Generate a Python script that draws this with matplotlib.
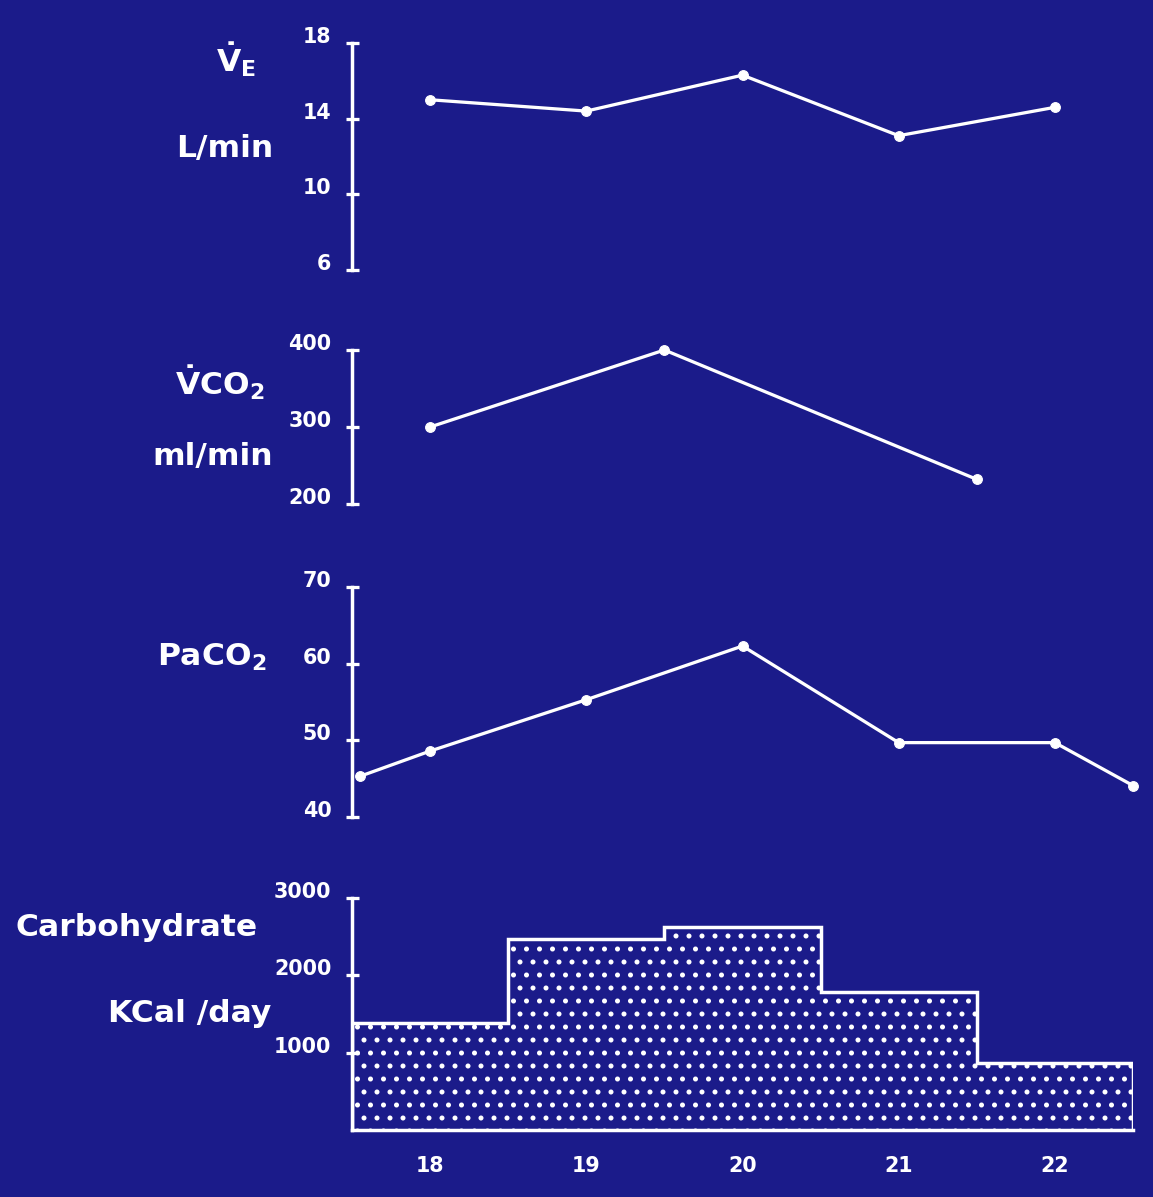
import numpy as np
import matplotlib.pyplot as plt
from matplotlib.transforms import ScaledTranslation

# Data
ve_days = [18, 19, 20, 21, 22]
ve_vals = [15.0, 14.4, 16.3, 13.1, 14.6]

vco2_days = [18, 19.5, 21.5]
vco2_vals = [300, 400, 232]

paco2_days = [17.55, 18, 19, 20, 21, 22, 22.5]
paco2_vals = [45.3, 48.6, 55.3, 62.3, 49.7, 49.7, 44.1]

carb_days = [18, 19, 20, 21, 22]
carb_vals = [1380, 2470, 2630, 1780, 870]

day_ticks = [18, 19, 20, 21, 22]

BG = "#1b1b8a"
FG = "white"
DPI = 78
W, H = 1153, 1197

plt.rcParams["hatch.color"] = FG
plt.rcParams["hatch.linewidth"] = 2.2
plt.rcParams["mathtext.default"] = "bf"
plt.rcParams["font.family"] = "DejaVu Sans"

fig = plt.figure(figsize=(W / DPI, H / DPI), dpi=DPI, facecolor=BG)


def px_box(top, bottom, left=352, right=1133):
    return [left / W, 1 - bottom / H, (right - left) / W, (bottom - top) / H]


def style_axis(ax, ylim, yticks):
    ax.set_facecolor("none")
    ax.set_xlim(17.5, 22.5)
    ax.set_ylim(*ylim)
    ax.set_yticks(yticks)
    for s in ["top", "right", "bottom"]:
        ax.spines[s].set_visible(False)
    ax.spines["left"].set_color(FG)
    ax.spines["left"].set_linewidth(3.2)
    ax.tick_params(axis="y", direction="inout", length=12, width=3,
                   colors=FG, labelsize=19, pad=13)
    ax.set_xticks([])
    offset = ScaledTranslation(0, 8 / DPI, fig.dpi_scale_trans)
    for lab in ax.get_yticklabels():
        lab.set_fontweight("bold")
        lab.set_transform(lab.get_transform() + offset)


line_kw = dict(color=FG, lw=3.0, marker="o", ms=9, mfc=FG, mec=FG,
               clip_on=False)

# ---- Ventilation
ax1 = fig.add_axes(px_box(43, 270))
style_axis(ax1, (6, 18), [6, 10, 14, 18])
ax1.plot(ve_days, ve_vals, **line_kw)

# ---- VCO2
ax2 = fig.add_axes(px_box(350, 504))
style_axis(ax2, (200, 400), [200, 300, 400])
ax2.plot(vco2_days, vco2_vals, **line_kw)

# ---- PaCO2
ax3 = fig.add_axes(px_box(587, 817))
style_axis(ax3, (40, 70), [40, 50, 60, 70])
ax3.plot(paco2_days, paco2_vals, **line_kw)

# ---- Carbohydrate
ax4 = fig.add_axes(px_box(898, 1130))
style_axis(ax4, (0, 3000), [1000, 2000, 3000])
edges = list(np.array(carb_days) - 0.5) + [carb_days[-1] + 0.5]
ax4.stairs(carb_vals, edges, baseline=0, fill=True, facecolor="none",
           edgecolor=FG, hatch=".", linewidth=3.2)
ax4.spines["bottom"].set_visible(True)
ax4.spines["bottom"].set_color(FG)
ax4.spines["bottom"].set_linewidth(3.2)
ax4.set_xticks(day_ticks)
ax4.tick_params(axis="x", length=0, colors=FG, labelsize=19, pad=24)
for lab in ax4.get_xticklabels():
    lab.set_fontweight("bold")

# ---- Left-hand labels
lab_kw = dict(color=FG, fontsize=29, fontweight="bold",
              ha="center", va="center")


def ftext(x, y, s, **kw):
    fig.text(x / W, 1 - y / H, s, **{**lab_kw, **kw})


ftext(236, 60, r"$\dot{V}_E$")
ftext(225, 148, "L/min")
ftext(220, 383, r"$\dot{V}$CO$_2$")
ftext(213, 457, "ml/min")
ftext(212, 657, r"PaCO$_2$")
ftext(137, 927, "Carbohydrate")
ftext(190, 1013, "KCal /day")

fig.savefig("out.png", dpi=DPI, facecolor=BG)
